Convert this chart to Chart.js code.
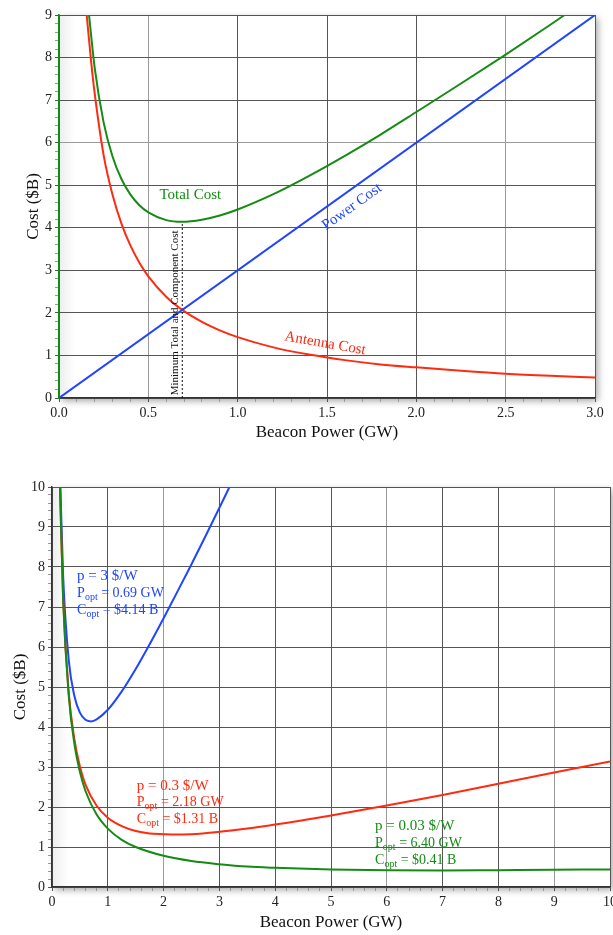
<!DOCTYPE html>
<html>
<head>
<meta charset="utf-8">
<script src="https://cdn.jsdelivr.net/npm/chart.js@4.4.0/dist/chart.umd.min.js"></script>
<style>
  body { margin: 0; background: #fff; }
  .box { position: absolute; left: 0; width: 613px; }
  #top { top: 0; height: 450px; }
  #bottom { top: 470px; height: 465px; }
</style>
</head>
<body>
<div class="box" id="top"><canvas id="top-chart" width="613" height="450"></canvas></div>
<div class="box" id="bottom"><canvas id="bottom-chart" width="613" height="465"></canvas></div>
<script>
// ------------------ DATA ------------------------------------------//

// top chart: cost components at 3 $/W
const powerX = [0, 3.0];
const powerCost = [0, 9.0];

const antennaX = [0.155, 0.18, 0.2, 0.25, 0.3, 0.35, 0.4, 0.45, 0.5, 0.6, 0.7, 0.8, 0.9, 1.0, 1.2, 1.4, 1.6, 1.8, 2.0, 2.25, 2.5, 2.75, 3.0];
const antennaCost = [9.0, 7.9, 7.15, 5.7, 4.77, 4.09, 3.58, 3.18, 2.86, 2.38, 2.04, 1.79, 1.59, 1.43, 1.19, 1.02, 0.89, 0.79, 0.72, 0.64, 0.57, 0.52, 0.48];

const totalX = [0.168, 0.2, 0.25, 0.3, 0.35, 0.4, 0.45, 0.5, 0.6, 0.69, 0.8, 0.9, 1.0, 1.2, 1.4, 1.6, 1.8, 2.0, 2.25, 2.5, 2.75, 2.83];
const totalCost = [9.0, 7.75, 6.47, 5.67, 5.14, 4.78, 4.53, 4.36, 4.18, 4.14, 4.19, 4.29, 4.43, 4.79, 5.22, 5.69, 6.19, 6.72, 7.39, 8.07, 8.77, 9.0];

const minX = [0.69, 0.69];
const minCost = [0, 4.14];

// bottom chart: total cost for three power prices
const blueX = [0.15, 0.2, 0.3, 0.4, 0.5, 0.6, 0.7, 0.8, 1.0, 1.25, 1.5, 1.75, 2.0, 2.25, 2.5, 2.75, 3.0, 3.18];
const blueCost = [10.0, 7.75, 5.67, 4.78, 4.36, 4.18, 4.14, 4.19, 4.43, 4.89, 5.45, 6.07, 6.72, 7.39, 8.07, 8.77, 9.48, 10.0];

const redX = [0.144, 0.2, 0.3, 0.4, 0.5, 0.6, 0.8, 1.0, 1.25, 1.5, 1.75, 2.0, 2.18, 2.5, 3.0, 3.5, 4.0, 5.0, 6.0, 7.0, 8.0, 9.0, 10.0];
const redCost = [10.0, 7.21, 4.86, 3.70, 3.01, 2.56, 2.03, 1.73, 1.52, 1.40, 1.34, 1.32, 1.31, 1.32, 1.38, 1.46, 1.56, 1.79, 2.04, 2.30, 2.58, 2.86, 3.14];

const greenX = [0.143, 0.2, 0.3, 0.4, 0.5, 0.6, 0.8, 1.0, 1.25, 1.5, 2.0, 2.5, 3.0, 3.5, 4.0, 5.0, 6.0, 7.0, 8.0, 9.0, 10.0];
const greenCost = [10.0, 7.16, 4.78, 3.59, 2.88, 2.40, 1.81, 1.46, 1.18, 1.00, 0.78, 0.65, 0.57, 0.51, 0.48, 0.44, 0.42, 0.41, 0.42, 0.43, 0.44];

// tick labels
const topXMajor = [0, 0.5, 1.0, 1.5, 2.0, 2.5, 3.0];
const topYMajor = [0, 1, 2, 3, 4, 5, 6, 7, 8, 9];
const botXMajor = [0, 1, 2, 3, 4, 5, 6, 7, 8, 9, 10];
const botYMajor = [0, 1, 2, 3, 4, 5, 6, 7, 8, 9, 10];

// ------------------ HELPERS -------------------//
const GREEN = '#148c14';
const BLUE = '#1f45ff';
const RED = '#ff2a10';
const GRID = '#555';

Chart.defaults.font.family = "'Liberation Serif', 'DejaVu Serif', serif";
Chart.defaults.color = '#222';

function pts(xs, ys) {
    return xs.map((x, i) => ({ x: x, y: ys[i] }));
}
function isMajor(v, list) {
    return list.some(m => Math.abs(m - v) < 1e-6);
}
function line(data, color, order) {
    return {
        data: data,
        showLine: true,
        borderColor: color,
        borderWidth: 2,
        pointRadius: 0,
        cubicInterpolationMode: 'monotone',
        order: order
    };
}

// plot frame with a drop shadow and a faint inner shade on the left
const framePlugin = {
    id: 'frame',
    beforeDraw(chart) {
        const { ctx, chartArea: a } = chart;
        ctx.save();
        ctx.shadowColor = 'rgba(0,0,0,0.35)';
        ctx.shadowBlur = 7;
        ctx.shadowOffsetX = 3;
        ctx.shadowOffsetY = 3;
        ctx.fillStyle = '#fff';
        ctx.fillRect(a.left, a.top, a.right - a.left, a.bottom - a.top);
        ctx.restore();
        ctx.save();
        const g = ctx.createLinearGradient(a.left, 0, a.left + 16, 0);
        g.addColorStop(0, 'rgba(0,0,0,0.07)');
        g.addColorStop(1, 'rgba(0,0,0,0)');
        ctx.fillStyle = g;
        ctx.fillRect(a.left, a.top, 16, a.bottom - a.top);
        ctx.restore();
    }
};

// text notes placed in data coordinates
const notesPlugin = {
    id: 'notes',
    afterDatasetsDraw(chart, args, opts) {
        const { ctx, scales: { x, y } } = chart;
        (opts.items || []).forEach(n => {
            ctx.save();
            ctx.translate(x.getPixelForValue(n.x), y.getPixelForValue(n.y));
            ctx.rotate((n.rotate || 0) * Math.PI / 180);
            ctx.fillStyle = n.color;
            ctx.textBaseline = 'middle';
            const fam = Chart.defaults.font.family;
            if (n.sub) {
                // main letter, subscript, rest
                ctx.textAlign = 'left';
                ctx.font = n.size + 'px ' + fam;
                ctx.fillText(n.text, 0, 0);
                let w = ctx.measureText(n.text).width;
                ctx.font = Math.round(n.size * 0.68) + 'px ' + fam;
                ctx.fillText(n.sub, w, 4);
                w += ctx.measureText(n.sub).width;
                ctx.font = n.size + 'px ' + fam;
                ctx.fillText(n.rest, w, 0);
            } else {
                ctx.textAlign = n.align || 'center';
                ctx.font = n.size + 'px ' + fam;
                ctx.fillText(n.text, 0, 0);
            }
            ctx.restore();
        });
    }
};

function axis(min, max, step, majors, fmt, fit, title, titlePad, borderColor, lightGrid) {
    return {
        type: 'linear',
        min: min,
        max: max,
        border: { color: borderColor || '#333', width: 1.5 },
        grid: {
            color: c => {
                if (!c.tick || !isMajor(c.tick.value, majors)) return 'rgba(0,0,0,0)';
                return isMajor(c.tick.value, lightGrid || []) ? '#9a9a9a' : GRID;
            },
            tickColor: c => (c.tick && isMajor(c.tick.value, majors)) ? '#555' : '#999',
            tickLength: 4,
            lineWidth: 1
        },
        ticks: {
            stepSize: step,
            autoSkip: false,
            maxRotation: 0,
            padding: 3,
            font: { size: 14 },
            callback: v => isMajor(v, majors) ? fmt(v) : ''
        },
        title: {
            display: true,
            text: title,
            font: { size: 17 },
            color: '#111',
            padding: titlePad
        },
        afterFit: fit
    };
}

// ------------------ TOP CHART -------------------//
new Chart(document.getElementById('top-chart'), {
    type: 'scatter',
    data: {
        datasets: [
            line(pts(totalX, totalCost), GREEN, 1),
            line(pts(powerX, powerCost), BLUE, 2),
            line(pts(antennaX, antennaCost), RED, 3),
            {
                data: pts(minX, minCost),
                showLine: true,
                borderColor: '#111',
                borderWidth: 1,
                borderDash: [2, 2],
                pointRadius: 0,
                order: 4
            }
        ]
    },
    options: {
        responsive: false,
        animation: false,
        devicePixelRatio: 1,
        layout: { padding: { left: 0, right: 18, top: 15, bottom: 0 } },
        scales: {
            x: axis(0, 3, 0.1, topXMajor, v => v.toFixed(1),
                s => { s.height = 52; s.paddingLeft = 0; s.paddingRight = 0; },
                'Beacon Power (GW)', { top: 0, bottom: 7 }, '#333', [0.5, 2.5]),
            y: axis(0, 9, 0.2, topYMajor, v => String(Math.round(v)),
                s => { s.width = 59; s.paddingTop = 0; s.paddingBottom = 0; },
                'Cost ($B)', { top: 23, bottom: 0 }, GREEN, [6])
        },
        plugins: {
            legend: { display: false },
            tooltip: { enabled: false },
            notes: {
                items: [
                    { text: 'Total Cost', x: 0.735, y: 4.78, color: GREEN, size: 15 },
                    { text: 'Power Cost', x: 1.64, y: 4.49, color: BLUE, size: 15, rotate: -35.5 },
                    { text: 'Antenna Cost', x: 1.49, y: 1.28, color: RED, size: 15, rotate: 10 },
                    { text: 'Minimum Total and Component Cost', x: 0.65, y: 2.0, color: '#111', size: 11, rotate: -90 }
                ]
            }
        }
    },
    plugins: [framePlugin, notesPlugin]
});

// ------------------ BOTTOM CHART -------------------//
new Chart(document.getElementById('bottom-chart'), {
    type: 'scatter',
    data: {
        datasets: [
            line(pts(blueX, blueCost), BLUE, 2),
            line(pts(redX, redCost), RED, 1),
            line(pts(greenX, greenCost), GREEN, 0)
        ]
    },
    options: {
        responsive: false,
        animation: false,
        devicePixelRatio: 1,
        layout: { padding: { left: 0, right: 3, top: 17, bottom: 0 } },
        scales: {
            x: axis(0, 10, 0.2, botXMajor, v => String(Math.round(v)),
                s => { s.height = 48; s.paddingLeft = 0; s.paddingRight = 0; },
                'Beacon Power (GW)', { top: 0, bottom: 2 }, '#333', [2, 6, 9]),
            y: axis(0, 10, 0.2, botYMajor, v => String(Math.round(v)),
                s => { s.width = 52; s.paddingTop = 0; s.paddingBottom = 0; },
                'Cost ($B)', { top: 10, bottom: 0 }, '#333', [])
        },
        plugins: {
            legend: { display: false },
            tooltip: { enabled: false },
            notes: {
                items: [
                    { text: 'p = 3 $/W', x: 0.45, y: 7.77, color: BLUE, size: 15, align: 'left' },
                    { text: 'P', sub: 'opt', rest: ' = 0.69 GW', x: 0.45, y: 7.34, color: BLUE, size: 14 },
                    { text: 'C', sub: 'opt', rest: ' = $4.14 B', x: 0.45, y: 6.92, color: BLUE, size: 14 },
                    { text: 'p = 0.3 $/W', x: 1.52, y: 2.52, color: RED, size: 15, align: 'left' },
                    { text: 'P', sub: 'opt', rest: ' = 2.18 GW', x: 1.52, y: 2.12, color: RED, size: 14 },
                    { text: 'C', sub: 'opt', rest: ' = $1.31 B', x: 1.52, y: 1.70, color: RED, size: 14 },
                    { text: 'p = 0.03 $/W', x: 5.79, y: 1.52, color: GREEN, size: 15, align: 'left' },
                    { text: 'P', sub: 'opt', rest: ' = 6.40 GW', x: 5.79, y: 1.09, color: GREEN, size: 14 },
                    { text: 'C', sub: 'opt', rest: ' = $0.41 B', x: 5.79, y: 0.67, color: GREEN, size: 14 }
                ]
            }
        }
    },
    plugins: [framePlugin, notesPlugin]
});
</script>
</body>
</html>
